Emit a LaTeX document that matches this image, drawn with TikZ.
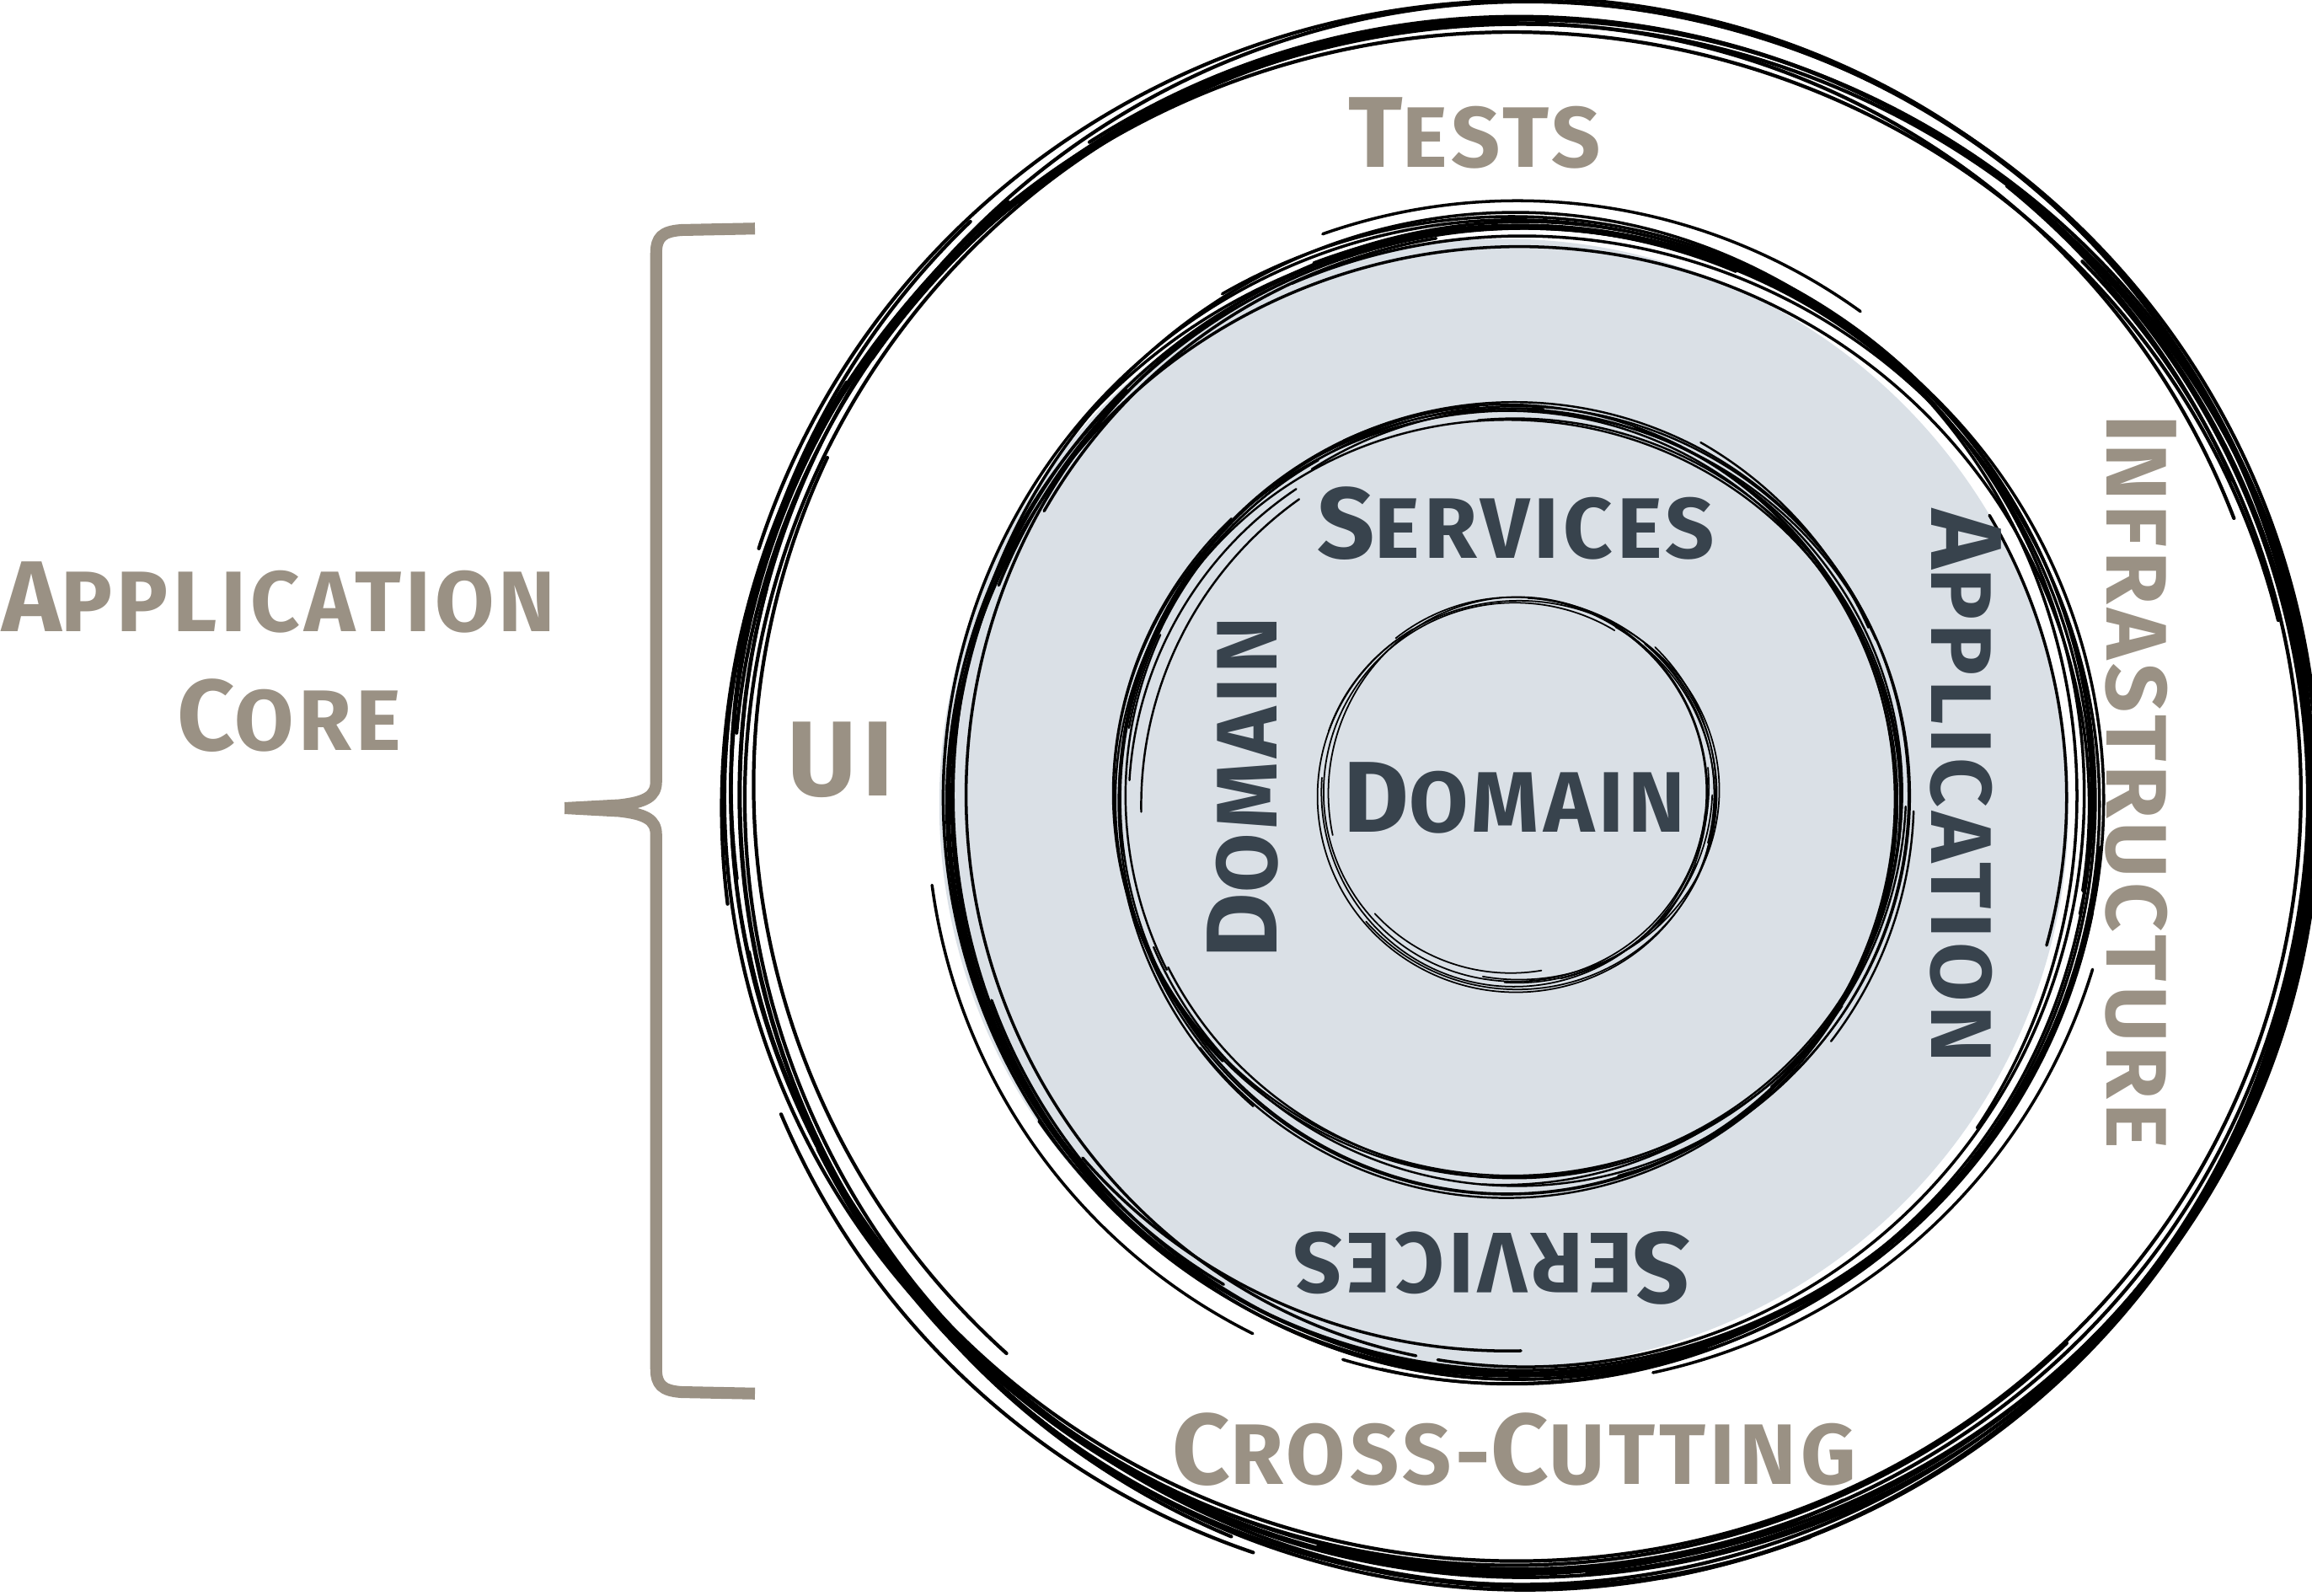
\documentclass[tikz,border=0pt]{standalone}
\usepackage{fontspec}
\setmainfont{Fira Sans}
\usepackage{tikz}

\definecolor{corebrown}{RGB}{154,145,132}
\definecolor{coredark}{RGB}{56,67,77}
\definecolor{corefill}{RGB}{218,224,230}

\newcommand{\scword}[2]{{\fontsize{34}{34}\selectfont #1}{\fontsize{29}{29}\selectfont #2}}

\tikzset{
  brown text/.style={text=corebrown, inner sep=0pt, font=\bfseries\addfontfeatures{LetterSpace=5}},
  dark text/.style={text=coredark, inner sep=0pt, font=\bfseries\addfontfeatures{LetterSpace=5}},
  sketchline/.style={black, line cap=round},
  brace/.style={corebrown, line width=4pt, line join=round}
}

\begin{document}
\begin{tikzpicture}[x=0.0175cm, y=-0.0175cm]
  \useasboundingbox (0,0) rectangle (1568,1082);
  % grey core disc
  \fill[corefill] (1020,545) circle (383);
  % sketchy rings: long strokes, then short ones
  \pgfmathsetseed{11}
  \foreach \cx/\cy/\r/\s/\n/\w in {1030/540/530/12/10/1.2pt, 1030/543/388/9/10/1pt, 1025/541/263/7/9/0.7pt, 1028/538/132/5/6/0.5pt}{
    \foreach \k in {1,...,\n}{
      \pgfmathsetmacro{\a}{360*rnd}
      \pgfmathsetmacro{\d}{220+140*rnd}
      \pgfmathsetmacro{\rx}{\r+\s*rand}
      \pgfmathsetmacro{\ry}{\r+\s*rand}
      \pgfmathsetmacro{\px}{\cx+0.5*\s*rand+\rx*cos(\a)}
      \pgfmathsetmacro{\py}{\cy+0.5*\s*rand+\ry*sin(\a)}
      \draw[sketchline, line width=\w] (\px,\py)
        arc[start angle=\a, delta angle=\d, x radius=\rx, y radius=\ry];
    }
    \foreach \k in {1,...,\n}{
      \pgfmathsetmacro{\a}{360*rnd}
      \pgfmathsetmacro{\d}{25+50*rnd}
      \pgfmathsetmacro{\rx}{\r+1.4*\s*rand}
      \pgfmathsetmacro{\px}{\cx+\s*rand+\rx*cos(\a)}
      \pgfmathsetmacro{\py}{\cy+\s*rand+\rx*sin(\a)}
      \draw[sketchline, line width=\w] (\px,\py)
        arc[start angle=\a, delta angle=\d, radius=\rx];
    }
  }
  % bracket
  \draw[brace] (512,155) -- (462,156) .. controls (449,157) and (445,161) .. (445,172)
    -- (445,530) .. controls (445,540) and (438,544) .. (420,546) -- (383,548);
  \draw[brace] (383,548) -- (420,550) .. controls (438,552) and (445,556) .. (445,566)
    -- (445,928) .. controls (445,939) and (449,943) .. (462,944) -- (512,945);
  % outer labels
  \node[brown text] (appl) at (189,405) {\scword{A}{PPLICATION}};
  \node[brown text] (core) at (196,485) {\scword{C}{ORE}};
  \node[brown text] (tests) at (1000,90) {\scword{T}{ESTS}};
  \node[brown text] (ui) at (570,515) {{\fontsize{36}{36}\selectfont UI}};
  \node[brown text, rotate=-90] (infra) at (1452,530) {\scword{I}{NFRASTRUCTURE}};
  \node[brown text] (cross) at (1027,983) {\scword{C}{ROSS-}\scword{C}{UTTING}};
  % core labels
  \node[dark text] (servicestop) at (1028,355) {\scword{S}{ERVICES}};
  \node[dark text, rotate=180] (servicesbottom) at (1012,860) {\scword{S}{ERVICES}};
  \node[dark text, rotate=90] (domainring) at (843,534) {\scword{D}{OMAIN}};
  \node[dark text, rotate=-90] (application) at (1333,533) {\scword{A}{PPLICATION}};
  \node[dark text] (domain) at (1027,541) {\scword{D}{OMAIN}};
\end{tikzpicture}
\end{document}
